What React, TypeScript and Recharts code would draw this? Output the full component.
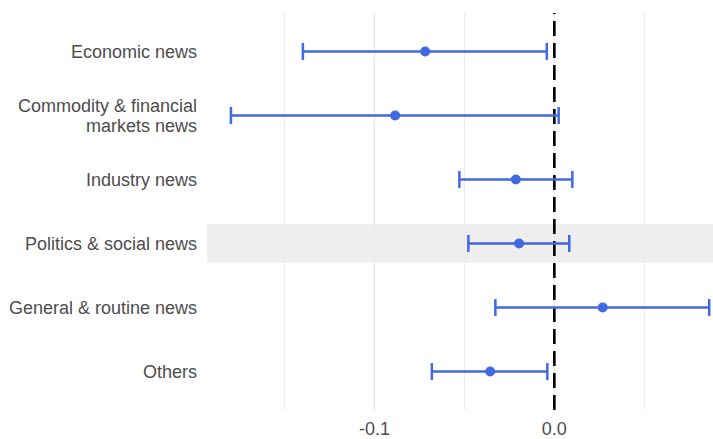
import React from "react";
import {
  ComposedChart,
  Scatter,
  ErrorBar,
  XAxis,
  YAxis,
  ReferenceLine,
  ReferenceArea,
} from "recharts";

// News categories, top to bottom
const categories = [
  "Economic news",
  "Commodity & financial\nmarkets news",
  "Industry news",
  "Politics & social news",
  "General & routine news",
  "Others",
];

// Point estimates and confidence bounds
const estimates = [-0.0718, -0.0885, -0.0214, -0.0196, 0.0269, -0.0357];
const lower = [-0.1398, -0.1798, -0.0528, -0.0478, -0.0328, -0.0681];
const upper = [-0.0042, 0.0024, 0.01, 0.0083, 0.0861, -0.0039];

const xTicks = [-0.1, 0.0];
const majorGrid = [-0.1, 0.0];
const minorGrid = [-0.15, -0.05, 0.05];
const highlighted = "Politics & social news";

const BLUE = "#4169E1";
const TEXT = "#4D4D4D";
const FONT = "'Liberation Sans', Arial, sans-serif";

const data = categories.map((name, i) => ({
  name,
  pos: i + 1,
  est: estimates[i],
  err: [estimates[i] - lower[i], upper[i] - estimates[i]],
}));

const highlightPos = categories.indexOf(highlighted) + 1;

const CategoryTick = (props: any) => {
  const { x, y, payload } = props;
  const label = categories[payload.value - 1] ?? "";
  const lines = label.split("\n");
  const lh = 20;
  const start = -((lines.length - 1) * lh) / 2;
  return (
    <text
      x={x}
      y={y}
      textAnchor="end"
      fill={TEXT}
      fontSize={18}
      fontFamily={FONT}
    >
      {lines.map((l: string, i: number) => (
        <tspan key={i} x={x} dy={i === 0 ? start + 6.3 : lh}>
          {l}
        </tspan>
      ))}
    </text>
  );
};

export default function App() {
  return (
    <div style={{ position: "absolute", left: 0, top: 0, background: "#fff" }}>
      <ComposedChart
        width={713}
        height={439}
        data={data}
        margin={{ top: 13, right: 0, bottom: 0, left: 0 }}
      >
        <XAxis
          type="number"
          dataKey="est"
          domain={[-0.1931, 0.0882]}
          allowDataOverflow
          ticks={xTicks}
          tickFormatter={(v: number) => v.toFixed(1)}
          axisLine={false}
          tickLine={false}
          tickSize={0}
          tickMargin={12}
          height={29}
          tick={{ fill: TEXT, fontSize: 18, fontFamily: FONT }}
        />
        <YAxis
          type="number"
          dataKey="pos"
          domain={[0.4, 6.6]}
          reversed
          ticks={[1, 2, 3, 4, 5, 6]}
          interval={0}
          axisLine={false}
          tickLine={false}
          tickSize={0}
          tickMargin={10}
          width={207}
          tick={<CategoryTick />}
        />
        {minorGrid.map((v) => (
          <ReferenceLine key={`mi${v}`} x={v} stroke="#EBEBEB" strokeWidth={1} />
        ))}
        {majorGrid.map((v) => (
          <ReferenceLine key={`ma${v}`} x={v} stroke="#EBEBEB" strokeWidth={1.6} />
        ))}
        <ReferenceArea
          y1={highlightPos - 0.3}
          y2={highlightPos + 0.3}
          fill="#EEEEEE"
          fillOpacity={1}
          stroke="none"
        />
        <ReferenceLine
          x={0}
          stroke="#000"
          strokeWidth={2.6}
          strokeDasharray="15 7"
        />
        <Scatter
          dataKey="est"
          isAnimationActive={false}
          shape={(p: any) => <circle cx={p.cx} cy={p.cy} r={5} fill={BLUE} />}
        >
          <ErrorBar
            dataKey="err"
            direction="x"
            width={8.5}
            stroke={BLUE}
            strokeWidth={2.5}
          />
        </Scatter>
      </ComposedChart>
    </div>
  );
}
